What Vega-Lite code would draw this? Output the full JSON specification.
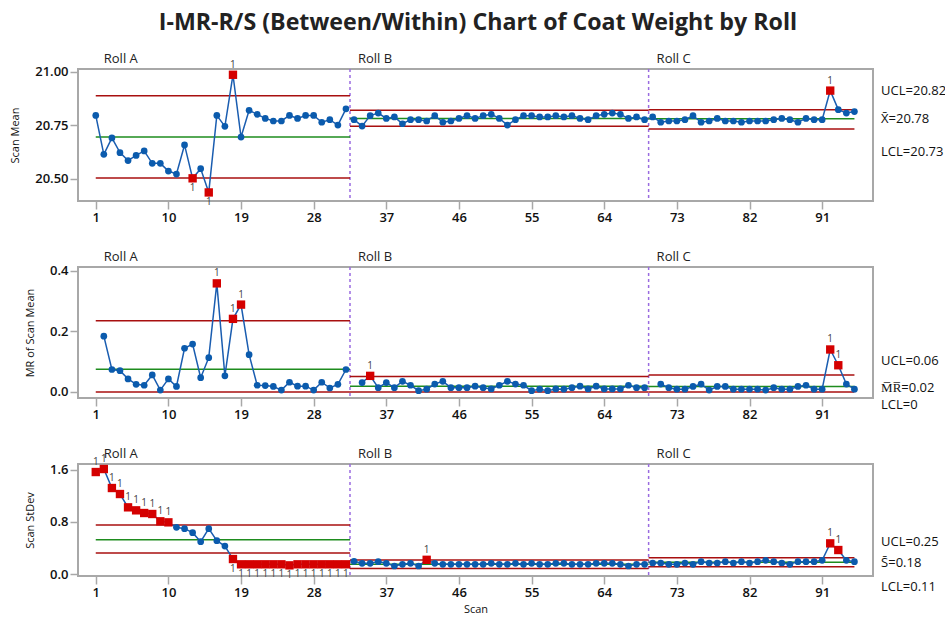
{
"$schema": "https://vega.github.io/schema/vega-lite/v6.json",
"padding": {"left": 8, "top": 10, "right": 0, "bottom": 4},
"background": "white",
"title": {"text": "I-MR-R/S (Between/Within) Chart of Coat Weight by Roll", "font": "Open Sans", "fontSize": 23.2, "fontWeight": "bold", "color": "#222222", "anchor": "middle", "offset": 17},
"bounds": "flush",
"spacing": 66,
"datasets": {
"pts": [
{"scan":1,"roll":"A","m":20.797,"r":null,"s":1.563,"fs":"U"},
{"scan":2,"roll":"A","m":20.615,"r":0.184,"s":1.609,"fs":"U"},
{"scan":3,"roll":"A","m":20.692,"r":0.074,"s":1.318,"fs":"U"},
{"scan":4,"roll":"A","m":20.623,"r":0.070,"s":1.226,"fs":"U"},
{"scan":5,"roll":"A","m":20.586,"r":0.043,"s":1.022,"fs":"U"},
{"scan":6,"roll":"A","m":20.610,"r":0.025,"s":0.976,"fs":"U"},
{"scan":7,"roll":"A","m":20.631,"r":0.022,"s":0.935,"fs":"U"},
{"scan":8,"roll":"A","m":20.573,"r":0.056,"s":0.920,"fs":"U"},
{"scan":9,"roll":"A","m":20.573,"r":0.006,"s":0.808,"fs":"U"},
{"scan":10,"roll":"A","m":20.537,"r":0.043,"s":0.792,"fs":"U"},
{"scan":11,"roll":"A","m":20.523,"r":0.018,"s":0.716},
{"scan":12,"roll":"A","m":20.659,"r":0.144,"s":0.695},
{"scan":13,"roll":"A","m":20.503,"r":0.158,"s":0.634,"fm":"L"},
{"scan":14,"roll":"A","m":20.548,"r":0.047,"s":0.496},
{"scan":15,"roll":"A","m":20.437,"r":0.113,"s":0.695,"fm":"L"},
{"scan":16,"roll":"A","m":20.797,"r":0.358,"s":0.511,"fr":"U"},
{"scan":17,"roll":"A","m":20.746,"r":0.053,"s":0.429},
{"scan":18,"roll":"A","m":20.987,"r":0.241,"s":0.230,"fm":"U","fr":"U","fs":"L"},
{"scan":19,"roll":"A","m":20.696,"r":0.288,"s":0.149,"fr":"U","fs":"L"},
{"scan":20,"roll":"A","m":20.821,"r":0.123,"s":0.149,"fs":"L"},
{"scan":21,"roll":"A","m":20.802,"r":0.022,"s":0.149,"fs":"L"},
{"scan":22,"roll":"A","m":20.783,"r":0.021,"s":0.149,"fs":"L"},
{"scan":23,"roll":"A","m":20.771,"r":0.018,"s":0.149,"fs":"L"},
{"scan":24,"roll":"A","m":20.771,"r":0.006,"s":0.149,"fs":"L"},
{"scan":25,"roll":"A","m":20.797,"r":0.032,"s":0.133,"fs":"L"},
{"scan":26,"roll":"A","m":20.783,"r":0.019,"s":0.149,"fs":"L"},
{"scan":27,"roll":"A","m":20.797,"r":0.019,"s":0.149,"fs":"L"},
{"scan":28,"roll":"A","m":20.797,"r":0.006,"s":0.149,"fs":"L"},
{"scan":29,"roll":"A","m":20.765,"r":0.032,"s":0.149,"fs":"L"},
{"scan":30,"roll":"A","m":20.777,"r":0.013,"s":0.149,"fs":"L"},
{"scan":31,"roll":"A","m":20.752,"r":0.025,"s":0.149,"fs":"L"},
{"scan":32,"roll":"A","m":20.828,"r":0.074,"s":0.149,"fs":"L"},
{"scan":33,"roll":"B","m":20.777,"r":null,"s":0.195},
{"scan":34,"roll":"B","m":20.747,"r":0.031,"s":0.164},
{"scan":35,"roll":"B","m":20.796,"r":0.053,"s":0.164,"fr":"U"},
{"scan":36,"roll":"B","m":20.808,"r":0.014,"s":0.190},
{"scan":37,"roll":"B","m":20.783,"r":0.031,"s":0.164},
{"scan":38,"roll":"B","m":20.790,"r":0.014,"s":0.123},
{"scan":39,"roll":"B","m":20.758,"r":0.035,"s":0.149},
{"scan":40,"roll":"B","m":20.777,"r":0.022,"s":0.164},
{"scan":41,"roll":"B","m":20.777,"r":0.004,"s":0.123},
{"scan":42,"roll":"B","m":20.771,"r":0.009,"s":0.218,"fs":"U"},
{"scan":43,"roll":"B","m":20.796,"r":0.026,"s":0.164},
{"scan":44,"roll":"B","m":20.765,"r":0.035,"s":0.149},
{"scan":45,"roll":"B","m":20.771,"r":0.014,"s":0.149},
{"scan":46,"roll":"B","m":20.783,"r":0.014,"s":0.149},
{"scan":47,"roll":"B","m":20.796,"r":0.014,"s":0.149},
{"scan":48,"roll":"B","m":20.783,"r":0.019,"s":0.149},
{"scan":49,"roll":"B","m":20.796,"r":0.014,"s":0.149},
{"scan":50,"roll":"B","m":20.802,"r":0.010,"s":0.164},
{"scan":51,"roll":"B","m":20.783,"r":0.022,"s":0.149},
{"scan":52,"roll":"B","m":20.752,"r":0.035,"s":0.149},
{"scan":53,"roll":"B","m":20.777,"r":0.026,"s":0.164},
{"scan":54,"roll":"B","m":20.796,"r":0.022,"s":0.149},
{"scan":55,"roll":"B","m":20.796,"r":0.004,"s":0.164},
{"scan":56,"roll":"B","m":20.790,"r":0.009,"s":0.149},
{"scan":57,"roll":"B","m":20.790,"r":0.004,"s":0.149},
{"scan":58,"roll":"B","m":20.796,"r":0.010,"s":0.164},
{"scan":59,"roll":"B","m":20.790,"r":0.009,"s":0.164},
{"scan":60,"roll":"B","m":20.796,"r":0.014,"s":0.149},
{"scan":61,"roll":"B","m":20.783,"r":0.019,"s":0.149},
{"scan":62,"roll":"B","m":20.777,"r":0.010,"s":0.149},
{"scan":63,"roll":"B","m":20.796,"r":0.019,"s":0.164},
{"scan":64,"roll":"B","m":20.802,"r":0.010,"s":0.164},
{"scan":65,"roll":"B","m":20.808,"r":0.010,"s":0.164},
{"scan":66,"roll":"B","m":20.802,"r":0.010,"s":0.149},
{"scan":67,"roll":"B","m":20.783,"r":0.022,"s":0.123},
{"scan":68,"roll":"B","m":20.790,"r":0.014,"s":0.149},
{"scan":69,"roll":"B","m":20.777,"r":0.014,"s":0.149},
{"scan":70,"roll":"C","m":20.790,"r":null,"s":0.169},
{"scan":71,"roll":"C","m":20.765,"r":0.026,"s":0.169},
{"scan":72,"roll":"C","m":20.771,"r":0.014,"s":0.149},
{"scan":73,"roll":"C","m":20.771,"r":0.009,"s":0.149},
{"scan":74,"roll":"C","m":20.777,"r":0.009,"s":0.169},
{"scan":75,"roll":"C","m":20.796,"r":0.018,"s":0.149},
{"scan":76,"roll":"C","m":20.765,"r":0.026,"s":0.190},
{"scan":77,"roll":"C","m":20.771,"r":0.006,"s":0.169},
{"scan":78,"roll":"C","m":20.783,"r":0.018,"s":0.169},
{"scan":79,"roll":"C","m":20.771,"r":0.018,"s":0.190},
{"scan":80,"roll":"C","m":20.771,"r":0.009,"s":0.169},
{"scan":81,"roll":"C","m":20.765,"r":0.009,"s":0.190},
{"scan":82,"roll":"C","m":20.771,"r":0.009,"s":0.169},
{"scan":83,"roll":"C","m":20.771,"r":0.009,"s":0.190},
{"scan":84,"roll":"C","m":20.771,"r":0.006,"s":0.210},
{"scan":85,"roll":"C","m":20.777,"r":0.014,"s":0.190},
{"scan":86,"roll":"C","m":20.783,"r":0.009,"s":0.169},
{"scan":87,"roll":"C","m":20.777,"r":0.009,"s":0.149},
{"scan":88,"roll":"C","m":20.765,"r":0.018,"s":0.190},
{"scan":89,"roll":"C","m":20.783,"r":0.022,"s":0.190},
{"scan":90,"roll":"C","m":20.777,"r":0.009,"s":0.190},
{"scan":91,"roll":"C","m":20.777,"r":0.009,"s":0.210},
{"scan":92,"roll":"C","m":20.913,"r":0.140,"s":0.470,"fm":"U","fr":"U","fs":"U"},
{"scan":93,"roll":"C","m":20.824,"r":0.088,"s":0.368,"fr":"U","fs":"U"},
{"scan":94,"roll":"C","m":20.808,"r":0.026,"s":0.210},
{"scan":95,"roll":"C","m":20.815,"r":0.009,"s":0.190}
],
"lim": [
{"roll":"Roll A","x0":1,"x1":32.5,"mu":20.889,"mc":20.696,"ml":20.505,"ru":0.235,"rc":0.075,"rl":0,"su":0.751,"sc":0.527,"sl":0.322},
{"roll":"Roll B","x0":32.5,"x1":69.5,"mu":20.821,"mc":20.783,"ml":20.746,"ru":0.051,"rc":0.019,"rl":0,"su":0.214,"sc":0.149,"sl":0.084},
{"roll":"Roll C","x0":69.5,"x1":95,"mu":20.824,"mc":20.781,"ml":20.734,"ru":0.056,"rc":0.018,"rl":0,"su":0.25,"sc":0.18,"sl":0.11}
],
"labs": [
{"p":"m","k":"u","v":20.824,"t":"UCL=20.82"},
{"p":"m","k":"c","v":20.781,"t":"X\u0304=20.78"},
{"p":"m","k":"l","v":20.734,"t":"LCL=20.73"},
{"p":"r","k":"u","v":0.056,"t":"UCL=0.06"},
{"p":"r","k":"c","v":0.018,"t":"M\u0305R\u0305=0.02"},
{"p":"r","k":"l","v":0,"t":"LCL=0"},
{"p":"s","k":"u","v":0.25,"t":"UCL=0.25"},
{"p":"s","k":"c","v":0.18,"t":"S\u0304=0.18"},
{"p":"s","k":"l","v":0.11,"t":"LCL=0.11"}
]
},
"vconcat": [
{
"width": 795, "height": 132,
"layer": [
{"data": {"name": "lim"}, "transform": [{"filter": "datum.roll != 'Roll C'"}], "mark": {"type": "rule", "color": "#9A6BE0", "strokeDash": [3, 3], "strokeWidth": 1.5}, "encoding": {"x": {"field": "x1", "type": "quantitative"}}},
{"data": {"name": "lim"}, "mark": {"type": "rule", "color": "#A80F0F", "strokeWidth": 1.5}, "encoding": {"x": {"field": "x0", "type": "quantitative"}, "x2": {"field": "x1"}, "y": {"field": "mu", "type": "quantitative"}}},
{"data": {"name": "lim"}, "mark": {"type": "rule", "color": "#A80F0F", "strokeWidth": 1.5}, "encoding": {"x": {"field": "x0", "type": "quantitative"}, "x2": {"field": "x1"}, "y": {"field": "ml", "type": "quantitative"}}},
{"data": {"name": "lim"}, "mark": {"type": "rule", "color": "#1E8C1E", "strokeWidth": 1.5}, "encoding": {"x": {"field": "x0", "type": "quantitative"}, "x2": {"field": "x1"}, "y": {"field": "mc", "type": "quantitative"}}},
{"data": {"name": "pts"}, "mark": {"type": "line", "color": "#1A5DB0", "strokeWidth": 1.5},
 "encoding": {
  "x": {"field": "scan", "type": "quantitative", "scale": {"domain": [-1.2, 97.3], "nice": false, "zero": false}, "axis": {"values": [1, 10, 19, 28, 37, 46, 55, 64, 73, 82, 91], "title": null}},
  "y": {"field": "m", "type": "quantitative", "scale": {"domain": [20.397, 21.014], "nice": false, "zero": false}, "axis": {"values": [20.5, 20.75, 21.0], "format": ".2f", "title": "Scan Mean", "titlePadding": 14}},
  "detail": {"field": "roll"}}},
{"data": {"name": "pts"}, "transform": [{"filter": "!datum.fm"}], "mark": {"type": "circle", "size": 45, "color": "#0B5BAD", "opacity": 1}, "encoding": {"x": {"field": "scan", "type": "quantitative"}, "y": {"field": "m", "type": "quantitative"}}},
{"data": {"name": "pts"}, "transform": [{"filter": "datum.fm"}], "mark": {"type": "square", "size": 70, "color": "#D40000", "opacity": 1}, "encoding": {"x": {"field": "scan", "type": "quantitative"}, "y": {"field": "m", "type": "quantitative"}}},
{"data": {"name": "pts"}, "transform": [{"filter": "datum.fm == 'U'"}], "mark": {"type": "text", "baseline": "bottom", "dy": -5, "fontSize": 10, "color": "#444444"}, "encoding": {"x": {"field": "scan", "type": "quantitative"}, "y": {"field": "m", "type": "quantitative"}, "text": {"value": "1"}}},
{"data": {"name": "pts"}, "transform": [{"filter": "datum.fm == 'L'"}], "mark": {"type": "text", "baseline": "top", "dy": 5, "fontSize": 10, "color": "#444444"}, "encoding": {"x": {"field": "scan", "type": "quantitative"}, "y": {"field": "m", "type": "quantitative"}, "text": {"value": "1"}}},
{"data": {"name": "lim"}, "mark": {"type": "text", "align": "left", "baseline": "bottom", "dx": 8, "dy": -3, "fontSize": 13, "color": "#222222"}, "encoding": {"x": {"field": "x0", "type": "quantitative"}, "y": {"datum": 21.014}, "text": {"field": "roll"}}},
{"data": {"name": "labs"}, "transform": [{"filter": "datum.p == 'm' && datum.k == 'u'"}], "mark": {"type": "text", "align": "left", "dy": -19, "fontSize": 13, "color": "#111111"}, "encoding": {"x": {"datum": 98.3}, "y": {"field": "v", "type": "quantitative"}, "text": {"field": "t"}}},
{"data": {"name": "labs"}, "transform": [{"filter": "datum.p == 'm' && datum.k == 'c'"}], "mark": {"type": "text", "align": "left", "dy": 0, "fontSize": 13, "color": "#111111"}, "encoding": {"x": {"datum": 98.3}, "y": {"field": "v", "type": "quantitative"}, "text": {"field": "t"}}},
{"data": {"name": "labs"}, "transform": [{"filter": "datum.p == 'm' && datum.k == 'l'"}], "mark": {"type": "text", "align": "left", "dy": 23, "fontSize": 13, "color": "#111111"}, "encoding": {"x": {"datum": 98.3}, "y": {"field": "v", "type": "quantitative"}, "text": {"field": "t"}}}
]
},
{
"width": 795, "height": 131,
"layer": [
{"data": {"name": "lim"}, "transform": [{"filter": "datum.roll != 'Roll C'"}], "mark": {"type": "rule", "color": "#9A6BE0", "strokeDash": [3, 3], "strokeWidth": 1.5}, "encoding": {"x": {"field": "x1", "type": "quantitative"}}},
{"data": {"name": "lim"}, "mark": {"type": "rule", "color": "#A80F0F", "strokeWidth": 1.5}, "encoding": {"x": {"field": "x0", "type": "quantitative"}, "x2": {"field": "x1"}, "y": {"field": "ru", "type": "quantitative"}}},
{"data": {"name": "lim"}, "mark": {"type": "rule", "color": "#A80F0F", "strokeWidth": 1.5}, "encoding": {"x": {"field": "x0", "type": "quantitative"}, "x2": {"field": "x1"}, "y": {"field": "rl", "type": "quantitative"}}},
{"data": {"name": "lim"}, "mark": {"type": "rule", "color": "#1E8C1E", "strokeWidth": 1.5}, "encoding": {"x": {"field": "x0", "type": "quantitative"}, "x2": {"field": "x1"}, "y": {"field": "rc", "type": "quantitative"}}},
{"data": {"name": "pts"}, "mark": {"type": "line", "color": "#1A5DB0", "strokeWidth": 1.5},
 "encoding": {
  "x": {"field": "scan", "type": "quantitative", "scale": {"domain": [-1.2, 97.3], "nice": false, "zero": false}, "axis": {"values": [1, 10, 19, 28, 37, 46, 55, 64, 73, 82, 91], "title": null}},
  "y": {"field": "r", "type": "quantitative", "scale": {"domain": [-0.02, 0.412], "nice": false, "zero": false}, "axis": {"values": [0, 0.2, 0.4], "format": ".1f", "title": "MR of Scan Mean", "titlePadding": 14}},
  "detail": {"field": "roll"}}},
{"data": {"name": "pts"}, "transform": [{"filter": "isValid(datum.r) && !datum.fr"}], "mark": {"type": "circle", "size": 45, "color": "#0B5BAD", "opacity": 1}, "encoding": {"x": {"field": "scan", "type": "quantitative"}, "y": {"field": "r", "type": "quantitative"}}},
{"data": {"name": "pts"}, "transform": [{"filter": "datum.fr"}], "mark": {"type": "square", "size": 70, "color": "#D40000", "opacity": 1}, "encoding": {"x": {"field": "scan", "type": "quantitative"}, "y": {"field": "r", "type": "quantitative"}}},
{"data": {"name": "pts"}, "transform": [{"filter": "datum.fr == 'U'"}], "mark": {"type": "text", "baseline": "bottom", "dy": -5, "fontSize": 10, "color": "#444444"}, "encoding": {"x": {"field": "scan", "type": "quantitative"}, "y": {"field": "r", "type": "quantitative"}, "text": {"value": "1"}}},
{"data": {"name": "lim"}, "mark": {"type": "text", "align": "left", "baseline": "bottom", "dx": 8, "dy": -3, "fontSize": 13, "color": "#222222"}, "encoding": {"x": {"field": "x0", "type": "quantitative"}, "y": {"datum": 0.412}, "text": {"field": "roll"}}},
{"data": {"name": "labs"}, "transform": [{"filter": "datum.p == 'r' && datum.k == 'u'"}], "mark": {"type": "text", "align": "left", "dy": -14, "fontSize": 13, "color": "#111111"}, "encoding": {"x": {"datum": 98.3}, "y": {"field": "v", "type": "quantitative"}, "text": {"field": "t"}}},
{"data": {"name": "labs"}, "transform": [{"filter": "datum.p == 'r' && datum.k == 'c'"}], "mark": {"type": "text", "align": "left", "dy": 2, "fontSize": 13, "color": "#111111"}, "encoding": {"x": {"datum": 98.3}, "y": {"field": "v", "type": "quantitative"}, "text": {"field": "t"}}},
{"data": {"name": "labs"}, "transform": [{"filter": "datum.p == 'r' && datum.k == 'l'"}], "mark": {"type": "text", "align": "left", "dy": 13, "fontSize": 13, "color": "#111111"}, "encoding": {"x": {"datum": 98.3}, "y": {"field": "v", "type": "quantitative"}, "text": {"field": "t"}}}
]
},
{
"width": 795, "height": 112,
"layer": [
{"data": {"name": "lim"}, "transform": [{"filter": "datum.roll != 'Roll C'"}], "mark": {"type": "rule", "color": "#9A6BE0", "strokeDash": [3, 3], "strokeWidth": 1.5}, "encoding": {"x": {"field": "x1", "type": "quantitative"}}},
{"data": {"name": "lim"}, "mark": {"type": "rule", "color": "#A80F0F", "strokeWidth": 1.5}, "encoding": {"x": {"field": "x0", "type": "quantitative"}, "x2": {"field": "x1"}, "y": {"field": "su", "type": "quantitative"}}},
{"data": {"name": "lim"}, "mark": {"type": "rule", "color": "#A80F0F", "strokeWidth": 1.5}, "encoding": {"x": {"field": "x0", "type": "quantitative"}, "x2": {"field": "x1"}, "y": {"field": "sl", "type": "quantitative"}}},
{"data": {"name": "lim"}, "mark": {"type": "rule", "color": "#1E8C1E", "strokeWidth": 1.5}, "encoding": {"x": {"field": "x0", "type": "quantitative"}, "x2": {"field": "x1"}, "y": {"field": "sc", "type": "quantitative"}}},
{"data": {"name": "pts"}, "mark": {"type": "line", "color": "#1A5DB0", "strokeWidth": 1.5},
 "encoding": {
  "x": {"field": "scan", "type": "quantitative", "scale": {"domain": [-1.2, 97.3], "nice": false, "zero": false}, "axis": {"values": [1, 10, 19, 28, 37, 46, 55, 64, 73, 82, 91], "title": "Scan", "titlePadding": 4}},
  "y": {"field": "s", "type": "quantitative", "scale": {"domain": [-0.03, 1.686], "nice": false, "zero": false}, "axis": {"values": [0, 0.8, 1.6], "format": ".1f", "title": "Scan StDev", "titlePadding": 14}},
  "detail": {"field": "roll"}}},
{"data": {"name": "pts"}, "transform": [{"filter": "!datum.fs"}], "mark": {"type": "circle", "size": 45, "color": "#0B5BAD", "opacity": 1}, "encoding": {"x": {"field": "scan", "type": "quantitative"}, "y": {"field": "s", "type": "quantitative"}}},
{"data": {"name": "pts"}, "transform": [{"filter": "datum.fs"}], "mark": {"type": "square", "size": 70, "color": "#D40000", "opacity": 1}, "encoding": {"x": {"field": "scan", "type": "quantitative"}, "y": {"field": "s", "type": "quantitative"}}},
{"data": {"name": "pts"}, "transform": [{"filter": "datum.fs == 'U'"}], "mark": {"type": "text", "baseline": "bottom", "dy": -5, "fontSize": 10, "color": "#444444"}, "encoding": {"x": {"field": "scan", "type": "quantitative"}, "y": {"field": "s", "type": "quantitative"}, "text": {"value": "1"}}},
{"data": {"name": "pts"}, "transform": [{"filter": "datum.fs == 'L'"}], "mark": {"type": "text", "baseline": "top", "dy": 5, "fontSize": 10, "color": "#444444"}, "encoding": {"x": {"field": "scan", "type": "quantitative"}, "y": {"field": "s", "type": "quantitative"}, "text": {"value": "1"}}},
{"data": {"name": "lim"}, "mark": {"type": "text", "align": "left", "baseline": "bottom", "dx": 8, "dy": -3, "fontSize": 13, "color": "#222222"}, "encoding": {"x": {"field": "x0", "type": "quantitative"}, "y": {"datum": 1.686}, "text": {"field": "roll"}}},
{"data": {"name": "labs"}, "transform": [{"filter": "datum.p == 's' && datum.k == 'u'"}], "mark": {"type": "text", "align": "left", "dy": -16, "fontSize": 13, "color": "#111111"}, "encoding": {"x": {"datum": 98.3}, "y": {"field": "v", "type": "quantitative"}, "text": {"field": "t"}}},
{"data": {"name": "labs"}, "transform": [{"filter": "datum.p == 's' && datum.k == 'c'"}], "mark": {"type": "text", "align": "left", "dy": 1, "fontSize": 13, "color": "#111111"}, "encoding": {"x": {"datum": 98.3}, "y": {"field": "v", "type": "quantitative"}, "text": {"field": "t"}}},
{"data": {"name": "labs"}, "transform": [{"filter": "datum.p == 's' && datum.k == 'l'"}], "mark": {"type": "text", "align": "left", "dy": 20, "fontSize": 13, "color": "#111111"}, "encoding": {"x": {"datum": 98.3}, "y": {"field": "v", "type": "quantitative"}, "text": {"field": "t"}}}
]
}
],
"config": {
"font": "Open Sans",
"view": {"stroke": "#A8A8A8", "strokeWidth": 2},
"axis": {"domain": false, "grid": false, "tickColor": "#A8A8A8", "tickSize": 8, "tickWidth": 1.5, "labelFont": "Open Sans", "labelFontSize": 13, "labelFontWeight": 600, "labelColor": "#111111", "labelPadding": 2, "titleFont": "Open Sans", "titleFontSize": 11, "titleFontWeight": "normal", "titleColor": "#111111"}
}
}
